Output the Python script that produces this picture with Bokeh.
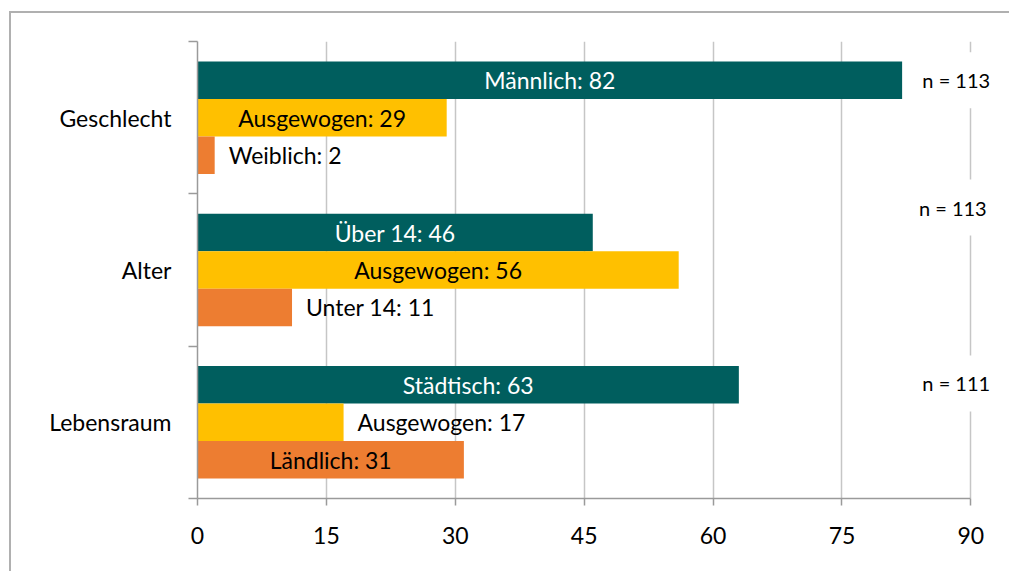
from bokeh.plotting import figure
from bokeh.models import (ColumnDataSource, FixedTicker, Label, Range1d)
from bokeh.embed import file_html
from bokeh.resources import INLINE

# ---- data ----
groups = ["Geschlecht", "Alter", "Lebensraum"]
top_labels = ["Männlich", "Über 14", "Städtisch"]
top_values = [82, 46, 63]
mid_labels = ["Ausgewogen", "Ausgewogen", "Ausgewogen"]
mid_values = [29, 56, 17]
bot_labels = ["Weiblich", "Unter 14", "Ländlich"]
bot_values = [2, 11, 31]
n_values = [113, 113, 111]
x_ticks = [0, 15, 30, 45, 60, 75, 90]

# ---- style ----
FONT = "Lato"
TEAL = "#005E5E"
YELLOW = "#FFC000"
ORANGE = "#ED7D31"
BAR_H = 0.246
n_label_pos = [(88.3, 2.745), (87.9, 1.91), (88.3, 0.755)]

p = figure(width=1000, height=560, x_range=Range1d(0, 93.1), y_range=Range1d(0, 3),
           output_backend="svg", toolbar_location=None,
           min_border_left=186, min_border_top=28, min_border_right=14, min_border_bottom=75)
p.outline_line_color = None
p.background_fill_color = "white"
p.border_fill_color = "white"
p.styles = {"margin-left": "11px", "margin-top": "13px",
            "box-shadow": "-2px -2px 0px 0px #b0b0b0"}

centers = [2.5 - i for i in range(len(groups))]

series = [
    (top_labels, top_values, TEAL, "white", BAR_H),
    (mid_labels, mid_values, YELLOW, "black", 0.0),
    (bot_labels, bot_values, ORANGE, "black", -BAR_H),
]

for labels, vals, color, tcolor, off in series:
    ys = [c + off for c in centers]
    src = ColumnDataSource(dict(y=ys, right=vals))
    p.hbar(y="y", left=0, right="right", height=BAR_H, source=src,
           fill_color=color, line_color=None)
    for lab, v, y in zip(labels, vals, ys):
        txt = f"{lab}: {v}"
        if v >= 20:
            p.add_layout(Label(x=v / 2, y=y, text=txt, text_align="center",
                               text_baseline="middle", text_font=FONT,
                               text_font_size="23px", text_color=tcolor))
        else:
            p.add_layout(Label(x=v, y=y, x_offset=14, text=txt, text_align="left",
                               text_baseline="middle", text_font=FONT,
                               text_font_size="23px", text_color="black"))

for n, (nx, ny) in zip(n_values, n_label_pos):
    p.add_layout(Label(x=nx, y=ny, text=f"n = {n}", text_align="center",
                       text_baseline="middle", text_font=FONT, text_font_size="20px",
                       text_color="black", background_fill_color="white",
                       padding=16))

# grid
p.ygrid.grid_line_color = None
p.xgrid.ticker = FixedTicker(ticks=x_ticks)
p.xgrid.grid_line_color = "#c6c6c6"
p.xgrid.grid_line_width = 1.5
p.xgrid.level = "underlay"

# x axis
p.xaxis.ticker = FixedTicker(ticks=x_ticks)
p.xaxis.bounds = (0, 90)
p.xaxis.axis_line_color = "#9a9a9a"
p.xaxis.axis_line_width = 1.5
p.xaxis.major_tick_line_color = "#9a9a9a"
p.xaxis.major_tick_line_width = 1.5
p.xaxis.major_tick_out = 7
p.xaxis.major_tick_in = 0
p.xaxis.minor_tick_line_color = None
p.xaxis.major_label_standoff = 21
p.xaxis.major_label_text_font = FONT
p.xaxis.major_label_text_font_size = "23px"
p.xaxis.major_label_text_color = "black"

# y axis
p.yaxis.ticker = FixedTicker(ticks=centers, minor_ticks=[0, 1, 2, 3])
p.yaxis.major_label_overrides = {c: g for c, g in zip(centers, groups)}
p.yaxis.axis_line_color = "#9a9a9a"
p.yaxis.axis_line_width = 1.5
p.yaxis.major_tick_line_color = None
p.yaxis.major_tick_out = 0
p.yaxis.major_tick_in = 0
p.yaxis.minor_tick_line_color = "#9a9a9a"
p.yaxis.minor_tick_line_width = 1.5
p.yaxis.minor_tick_out = 9
p.yaxis.minor_tick_in = 0
p.yaxis.major_label_standoff = 17
p.yaxis.major_label_text_font = FONT
p.yaxis.major_label_text_font_size = "23px"
p.yaxis.major_label_text_color = "black"

open("out.html", "w").write(file_html(p, INLINE))
